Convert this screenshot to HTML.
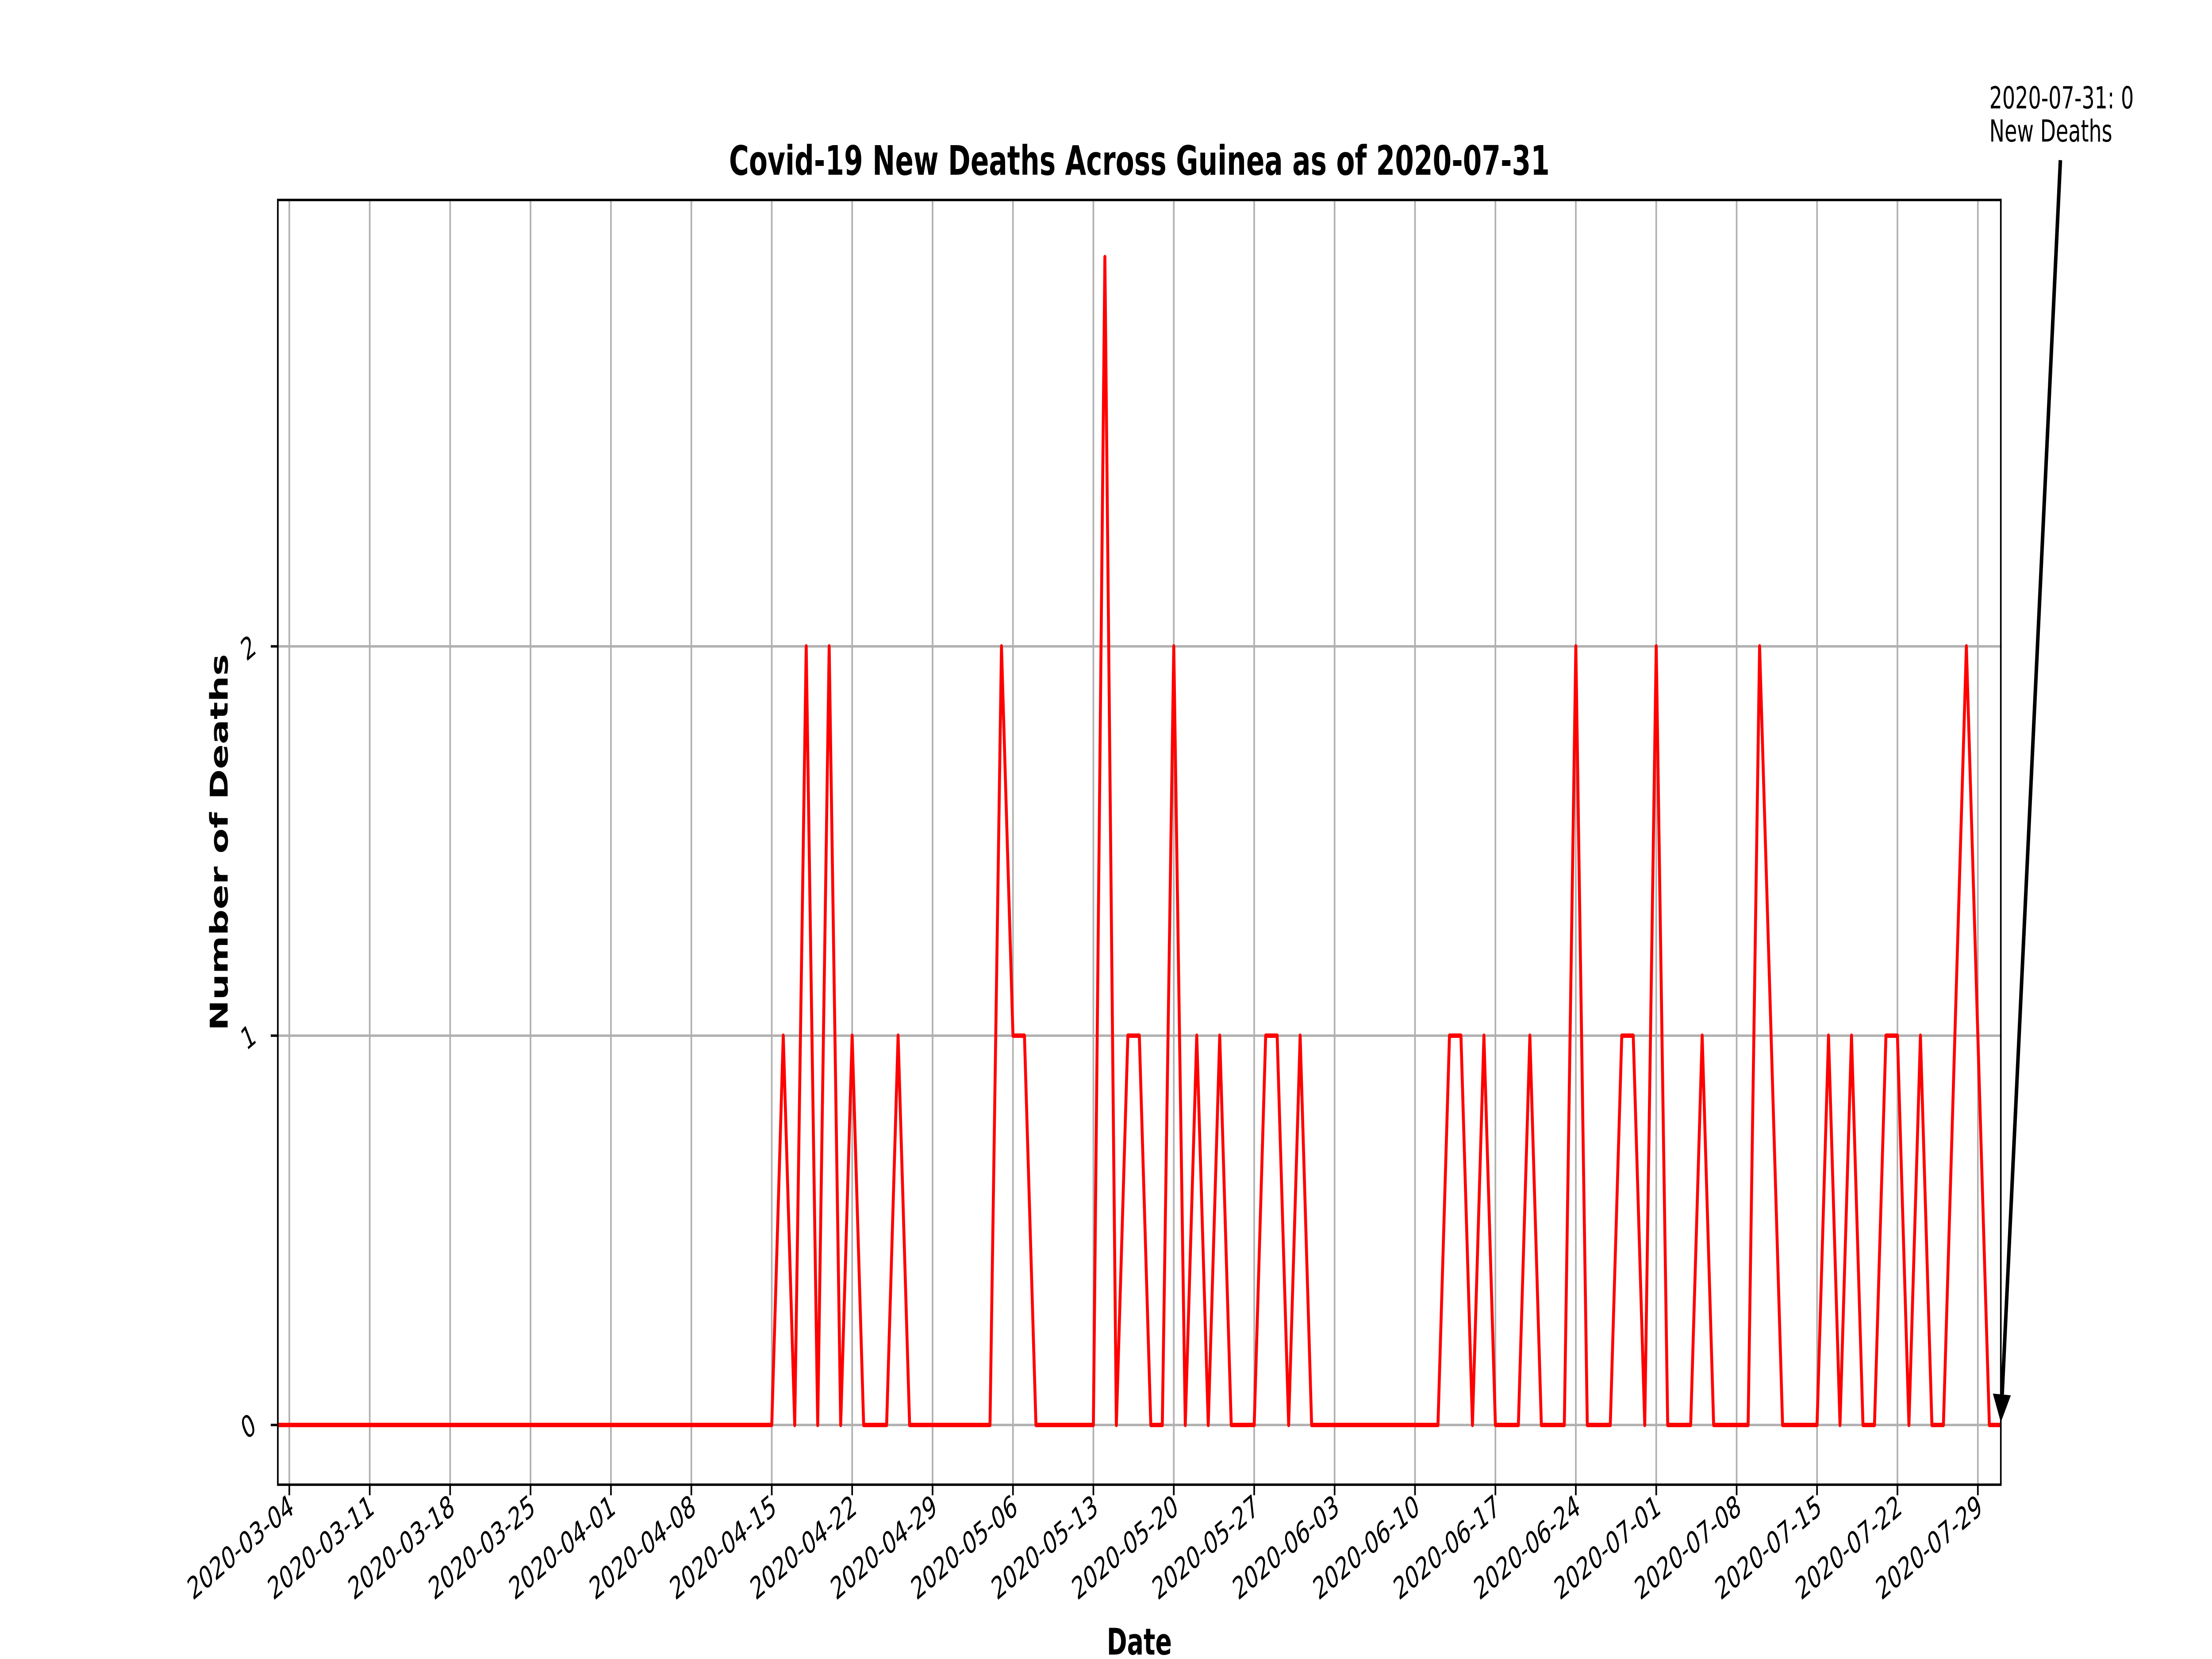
<!DOCTYPE html>
<html><head><meta charset="utf-8"><style>
html,body{margin:0;padding:0;background:#fff;width:100%;height:100%;overflow:hidden;}
svg{display:block;width:100vw;height:100vh;font-family:"DejaVu Sans","Liberation Sans",sans-serif;}
</style></head><body>
<svg id="chart" xmlns="http://www.w3.org/2000/svg" viewBox="0 0 7500 3750" preserveAspectRatio="none">
<rect width="7500" height="3750" fill="#fff"/>
<g id="grid"></g>
<g id="series"></g>
<rect x="942" y="452" width="5842" height="2904" fill="none" stroke="#000" stroke-width="5.5"/>
<g id="xticks"></g>
<g id="yticks"></g>
<text x="3863" y="395" font-size="92" font-weight="bold" text-anchor="middle">Covid-19 New Deaths Across Guinea as of 2020-07-31</text>
<text x="3863" y="3740" font-size="83" font-weight="bold" text-anchor="middle">Date</text>
<text x="0" y="0" font-size="83" font-weight="bold" text-anchor="middle" transform="translate(772,1904) rotate(-90)">Number of Deaths</text>
<g>
<text x="6745" y="245" font-size="69">2020-07-31: 0</text>
<text x="6745" y="320" font-size="69">New Deaths</text>
<line x1="6986" y1="362" x2="6788" y2="3160" stroke="#000" stroke-width="12"/>
<polygon points="6784,3215 6757,3150 6818,3154" fill="#000"/>
</g>
</svg>
<script>
const startDate = "2020-03-03";
const values = [0,0,0,0,0,0,0,0,0,0, 0,0,0,0,0,0,0,0,0,0, 0,0,0,0,0,0,0,0,0,0, 0,0,0,0,0,0,0,0,0,0, 0,0,0,0,1,0,2,0,2,0, 1,0,0,0,1,0,0,0,0,0, 0,0,0,2,1,1,0,0,0,0, 0,0,3,0,1,1,0,0,2,0, 1,0,1,0,0,0,1,1,0,1, 0,0,0,0,0,0,0,0,0,0, 0,0,1,1,0,1,0,0,0,1, 0,0,0,2,0,0,0,1,1,0, 2,0,0,0,1,0,0,0,0,2, 1,0,0,0,0,1,0,1,0,0, 1,1,0,1,0,0,1,2,1,0, 0];
const yTicks = [0,1,2];
const xTickLabels = ["2020-03-04","2020-03-11","2020-03-18","2020-03-25","2020-04-01","2020-04-08","2020-04-15","2020-04-22","2020-04-29","2020-05-06","2020-05-13","2020-05-20","2020-05-27","2020-06-03","2020-06-10","2020-06-17","2020-06-24","2020-07-01","2020-07-08","2020-07-15","2020-07-22","2020-07-29"];

const NS = "http://www.w3.org/2000/svg";
const L = 942, R = 6784, T = 452, B = 3356;
const y0px = 3221, perUnit = 880;
const n = values.length;
const t0 = Date.parse(startDate + "T00:00:00Z");
function dayOf(s){ return (Date.parse(s + "T00:00:00Z") - t0) / 86400000; }
function xScale(d){ return L + (R - L) * d / (n - 1); }
function yScale(v){ return y0px - perUnit * v; }
function mk(tag, attrs, parent){ const e = document.createElementNS(NS, tag); for (const k in attrs) e.setAttribute(k, attrs[k]); parent.appendChild(e); return e; }

const grid = document.getElementById("grid");
const xt = document.getElementById("xticks");
const yt = document.getElementById("yticks");
xTickLabels.forEach(lbl => {
  const x = xScale(dayOf(lbl));
  const g = mk("line", {x1:x, x2:x, y1:T, y2:B, stroke:"#b0b0b0", "stroke-width":5.5}, grid);
  
  
  const tk = mk("line", {x1:x, x2:x, y1:B, y2:B+24, stroke:"#000", "stroke-width":5.5}, xt);
  
  
  const tx = mk("text", {x:0, y:0, "font-size":69, "text-anchor":"end", transform:`translate(${x+20},${B+62}) rotate(-30)`}, xt);
  
  
  tx.textContent = lbl;
});
yTicks.forEach(v => {
  const y = yScale(v);
  const g = mk("line", {x1:L, x2:R, y1:y, y2:y, stroke:"#b0b0b0", "stroke-width":5.5}, grid);
  
  
  const tk = mk("line", {x1:L-24, x2:L, y1:y, y2:y, stroke:"#000", "stroke-width":5.5}, yt);
  
  
  const tx = mk("text", {x:0, y:0, "font-size":69, "text-anchor":"middle", transform:`translate(${L-88},${y+24}) rotate(-30)`}, yt);
  
  
  tx.textContent = String(v);
});
const pts = values.map((v,i) => xScale(i).toFixed(1) + "," + yScale(v).toFixed(1)).join(" ");
const line = mk("polyline", {points:pts, fill:"none", stroke:"#ff0000", "stroke-width":10, "stroke-linejoin":"round"}, document.getElementById("series"));


</script>
</body></html>
